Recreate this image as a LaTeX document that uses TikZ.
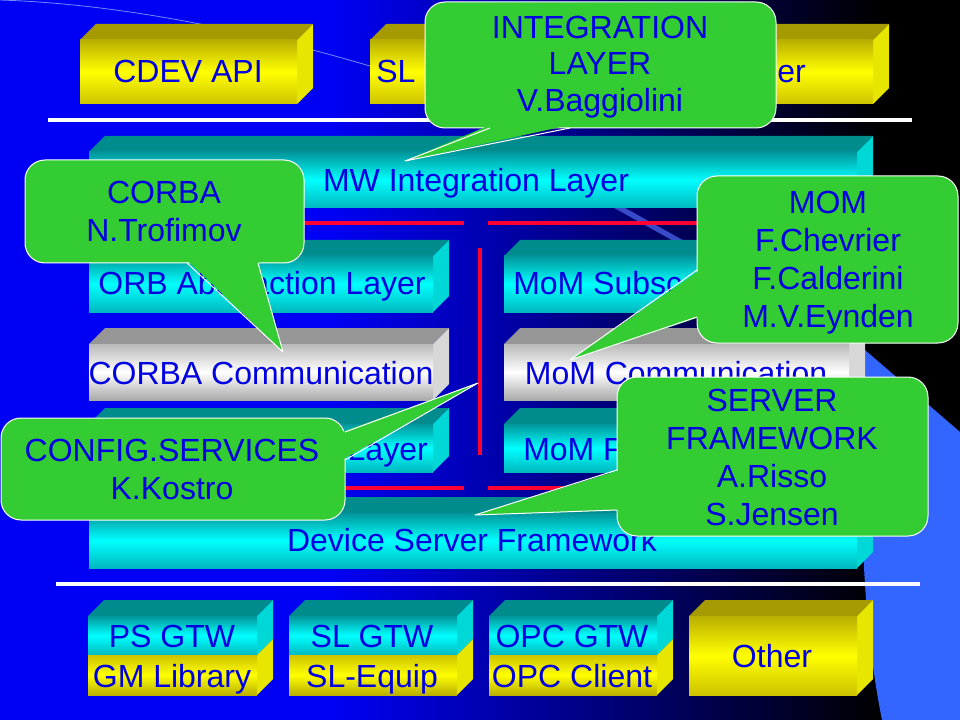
\documentclass[tikz,border=0pt]{standalone}
\usepackage{fontspec}
\setmainfont{Liberation Sans}

\definecolor{bgblue}{RGB}{0,0,245}
\definecolor{wedgeblue}{RGB}{51,102,255}
\definecolor{bandblue}{RGB}{55,75,200}
\definecolor{arcblue}{RGB}{110,140,255}
\definecolor{txtblue}{RGB}{0,0,225}
\definecolor{callgreen}{RGB}{51,204,51}
\definecolor{linered}{RGB}{255,0,51}
\definecolor{cyantop}{RGB}{0,140,140}
\definecolor{cyanside}{RGB}{0,215,215}
\definecolor{cyanhi}{RGB}{0,255,255}
\definecolor{cyanlo}{RGB}{0,150,155}
\definecolor{cyanbot}{RGB}{0,185,190}
\definecolor{yeltop}{RGB}{165,155,0}
\definecolor{yelside}{RGB}{230,230,0}
\definecolor{yelhi}{RGB}{255,255,0}
\definecolor{yello}{RGB}{185,175,0}
\definecolor{yelbot}{RGB}{205,195,0}
\definecolor{greytop}{RGB}{150,150,150}
\definecolor{greyside}{RGB}{215,215,215}
\definecolor{greyhi}{RGB}{255,255,255}
\definecolor{greylo}{RGB}{185,185,185}
\definecolor{greybot}{RGB}{170,170,170}

\tikzset{
  boxlabel/.style={anchor=base, inner sep=0pt, text=txtblue, font=\fontsize{24pt}{28.5pt}\selectfont},
  calllabel/.style={inner sep=0pt, align=center, text=txtblue, font=\fontsize{24pt}{28.5pt}\selectfont},
  callbody/.style={fill=callgreen, draw=white, line width=0.75pt, rounded corners=15pt},
  calledge/.style={draw=white, line width=0.75pt},
  redbar/.style={draw=linered, line width=3pt},
  whitebar/.style={draw=white, line width=2.6pt},
}

\begin{document}
\begin{tikzpicture}[x=0.75pt, y=-0.75pt, line join=round]
	\useasboundingbox (0,0) rectangle (960,720);
	% background
	\fill[bgblue] (0,0) rectangle (960,720);
	\shade[left color=bgblue, right color=black] (330,0) rectangle (880,720);
	\fill[black] (880,0) rectangle (960,720);
	\draw[arcblue, line width=0.6pt] (0,0) .. controls (120,4) and (250,30) .. (380,69);
	\draw[bandblue, line width=4pt] (600,197) -- (740,275);
	\fill[wedgeblue] (865,350) -- (960,432) -- (960,720) -- (882,720)
		.. controls (862,620) and (858,500) .. (865,350);

	% cyan blocks
	\foreach \xa/\ya/\xb/\yb in {89/152/857/208, 89/256/433/312, 504/256/849/312,
		89/424/433/472, 504/424/849/472, 89/513/857/568} {
		\fill[cyantop] (\xa,\ya) -- ++(16,-16) -- ({\xb+16},{\ya-16}) -- (\xb,\ya) -- cycle;
		\fill[cyanside] (\xb,\ya) -- ++(16,-16) -- ({\xb+16},{\yb-16}) -- (\xb,\yb) -- cycle;
		\shade[top color=cyanlo, bottom color=cyanbot, middle color=cyanhi] (\xa,\ya) rectangle (\xb,\yb);
	}
	% grey blocks
	\foreach \xa/\ya/\xb/\yb in {89/344/433/400, 504/344/849/400} {
		\fill[greytop] (\xa,\ya) -- ++(16,-16) -- ({\xb+16},{\ya-16}) -- (\xb,\ya) -- cycle;
		\fill[greyside] (\xb,\ya) -- ++(16,-16) -- ({\xb+16},{\yb-16}) -- (\xb,\yb) -- cycle;
		\shade[top color=greylo, bottom color=greybot, middle color=greyhi] (\xa,\ya) rectangle (\xb,\yb);
	}
	% yellow blocks
	\foreach \xa/\ya/\xb/\yb in {80/40/297/104, 370/40/873/104, 689/616/857/695} {
		\fill[yeltop] (\xa,\ya) -- ++(16,-16) -- ({\xb+16},{\ya-16}) -- (\xb,\ya) -- cycle;
		\fill[yelside] (\xb,\ya) -- ++(16,-16) -- ({\xb+16},{\yb-16}) -- (\xb,\yb) -- cycle;
		\shade[top color=yello, bottom color=yelbot, middle color=yelhi] (\xa,\ya) rectangle (\xb,\yb);
	}
	% gateway blocks, cyan over yellow
	\foreach \xa/\xb in {88/257, 289/457, 489/657} {
		\fill[cyantop] (\xa,616) -- ++(16,-16) -- ({\xb+16},600) -- (\xb,616) -- cycle;
		\fill[cyanside] (\xb,616) -- ++(16,-16) -- ({\xb+16},639) -- (\xb,655) -- cycle;
		\fill[yelside] (\xb,655) -- ++(16,-16) -- ({\xb+16},679) -- (\xb,695) -- cycle;
		\shade[top color=cyanlo, bottom color=cyanbot, middle color=cyanhi] (\xa,616) rectangle (\xb,655);
		\shade[top color=yelbot, bottom color=yello, middle color=yelhi] (\xa,655) rectangle (\xb,695);
	}

	% separators
	\draw[whitebar] (48,120) -- (912,120);
	\draw[whitebar] (56,584) -- (920,584);
	\draw[redbar] (100,223) -- (464,223);
	\draw[redbar] (488,223) -- (855,223);
	\draw[redbar] (480,248) -- (480,455);
	\draw[redbar] (100,488) -- (464,488);
	\draw[redbar] (488,488) -- (855,488);

	% block labels
	\node[boxlabel] (cdev) at (188,83) {CDEV API};
	\node[boxlabel, anchor=base west] (slapi) at (376,83) {SL};
	\node[boxlabel, anchor=base east] (slapiend) at (806,83) {er};
	\node[boxlabel] (mwlayer) at (476,192) {MW Integration Layer};
	\node[boxlabel] (orblayer) at (262,295) {ORB Abstraction Layer};
	\node[boxlabel] (corbacom) at (261,384) {CORBA Communication};
	\node[boxlabel, anchor=base east] (corbalow) at (428,460) {Layer};
	\node[boxlabel, anchor=base west] (momsub) at (513,295) {MoM Subsc};
	\node[boxlabel] (momcom) at (676,384) {MoM Communication};
	\node[boxlabel, anchor=base west] (momlow) at (523,460) {MoM F};
	\node[boxlabel] (devserver) at (472,551) {Device Server Framework};
	\node[boxlabel] (psgtw) at (172,647) {PS GTW};
	\node[boxlabel] (gmlib) at (172,687) {GM Library};
	\node[boxlabel] (slgtw) at (372,647) {SL GTW};
	\node[boxlabel] (slequip) at (372,687) {SL-Equip};
	\node[boxlabel] (opcgtw) at (572,647) {OPC GTW};
	\node[boxlabel] (opcclient) at (572,687) {OPC Client};
	\node[boxlabel] (other) at (772,667) {Other};

	% callouts
	\coordinate (integtip) at (405,161);
	\coordinate (corbatip) at (283,352);
	\coordinate (momtip) at (570,360);
	\coordinate (servertip) at (475,515);
	\coordinate (configtip) at (478,383);

	\fill[callbody] (425,2) rectangle (776,128);
	\fill[callgreen] (490,125) -- (integtip) -- (570,125) -- cycle;
	\draw[calledge] (490,128) -- (integtip) -- (570,128);
	\node[calllabel, font=\fontsize{24pt}{27.6pt}\selectfont] (integlabel) at (600,67) {INTEGRATION\\LAYER\\V.Baggiolini};

	\fill[callbody] (25,160) rectangle (304,263);
	\fill[callgreen] (187,260) -- (corbatip) -- (258,260) -- cycle;
	\draw[calledge] (187,263) -- (corbatip) -- (258,263);
	\node[calllabel] (corbalabel) at (164,211) {CORBA\\N.Trofimov};

	\fill[callbody] (697,176) rectangle (958,343);
	\fill[callgreen] (700,270) -- (momtip) -- (700,317) -- cycle;
	\draw[calledge] (697,270) -- (momtip) -- (697,317);
	\node[calllabel] (momlabel) at (828,263) {MOM\\F.Chevrier\\F.Calderini\\M.V.Eynden};

	\fill[callbody] (617,377) rectangle (928,536);
	\fill[callgreen] (620,470) -- (servertip) -- (620,510) -- cycle;
	\draw[calledge] (617,470) -- (servertip) -- (617,510);
	\node[calllabel] (serverlabel) at (772,457) {SERVER\\FRAMEWORK\\A.Risso\\S.Jensen};

	\fill[callbody] (1,418) rectangle (345,520);
	\fill[callgreen] (342,432) -- (configtip) -- (342,460) -- cycle;
	\draw[calledge] (345,432) -- (configtip) -- (345,460);
	\node[calllabel] (configlabel) at (172,469) {CONFIG.SERVICES\\K.Kostro};
\end{tikzpicture}
\end{document}
